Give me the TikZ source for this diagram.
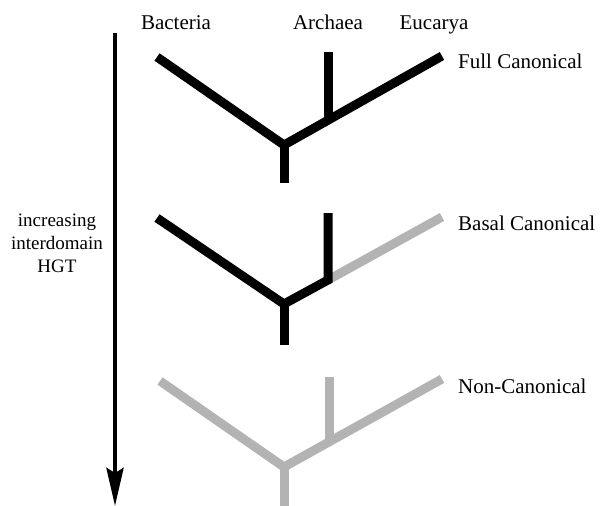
\documentclass[tikz,border=0pt]{standalone}
\usepackage{fontspec}
\setmainfont{Liberation Serif}
\usetikzlibrary{arrows.meta}
\definecolor{lightgrey}{RGB}{179,179,179}

\begin{document}
\begin{tikzpicture}[x=1pt,y=-1pt,
    branch/.style={line width=9pt},
    faded/.style={branch,draw=lightgrey},
    kingdom/.style={font=\fontsize{21}{25}\selectfont,anchor=base,inner sep=0pt},
    kind/.style={font=\fontsize{21}{25}\selectfont,anchor=base west,inner sep=0pt}]
    \useasboundingbox (0,0) rectangle (606,506);
    % domain names
    \node[kingdom] (bac) at (176,29) {Bacteria};
    \node[kingdom] (arc) at (328,29) {Archaea};
    \node[kingdom] (euc) at (434,29) {Eucarya};
    % tree labels
    \node[kind] (full) at (458,68) {Full Canonical};
    \node[kind] (basal) at (458,230) {Basal Canonical};
    \node[kind] (noncan) at (458,393) {Non-Canonical};
    % HGT axis
    \coordinate (top) at (115,33);
    \coordinate (bottom) at (115,506);
    \draw[line width=4.5pt,-{Stealth[length=38pt,width=17pt,inset=5pt]}] (top)--(bottom);
    \node[font=\rmfamily\fontsize{19}{23}\selectfont,align=center,inner sep=0pt] (hgt) at (57,243)
      {increasing\\interdomain\\HGT};
    % full canonical tree
    \coordinate (b1) at (157,57); \coordinate (r1) at (284,145); \coordinate (s1) at (284,183);
    \coordinate (a1) at (328,52); \coordinate (j1) at (328,120); \coordinate (e1) at (442,56);
    \draw[branch] (b1)--(r1)--(e1); \draw[branch] (r1)--(s1); \draw[branch] (a1)--(j1);
    % basal canonical tree
    \coordinate (b2) at (157,218); \coordinate (r2) at (284,304); \coordinate (s2) at (284,345);
    \coordinate (a2) at (328,213); \coordinate (j2) at (328,280); \coordinate (e2) at (442,217);
    \draw[faded] (j2)--(e2);
    \draw[branch] (b2)--(r2)--(j2)--(a2); \draw[branch] (r2)--(s2);
    % non-canonical tree
    \coordinate (b3) at (160,381); \coordinate (r3) at (284,467); \coordinate (s3) at (284,506);
    \coordinate (a3) at (329,377); \coordinate (j3) at (329,442); \coordinate (e3) at (442,379);
    \draw[faded] (b3)--(r3)--(e3); \draw[faded] (r3)--(s3); \draw[faded] (a3)--(j3);
  \end{tikzpicture}
\end{document}
